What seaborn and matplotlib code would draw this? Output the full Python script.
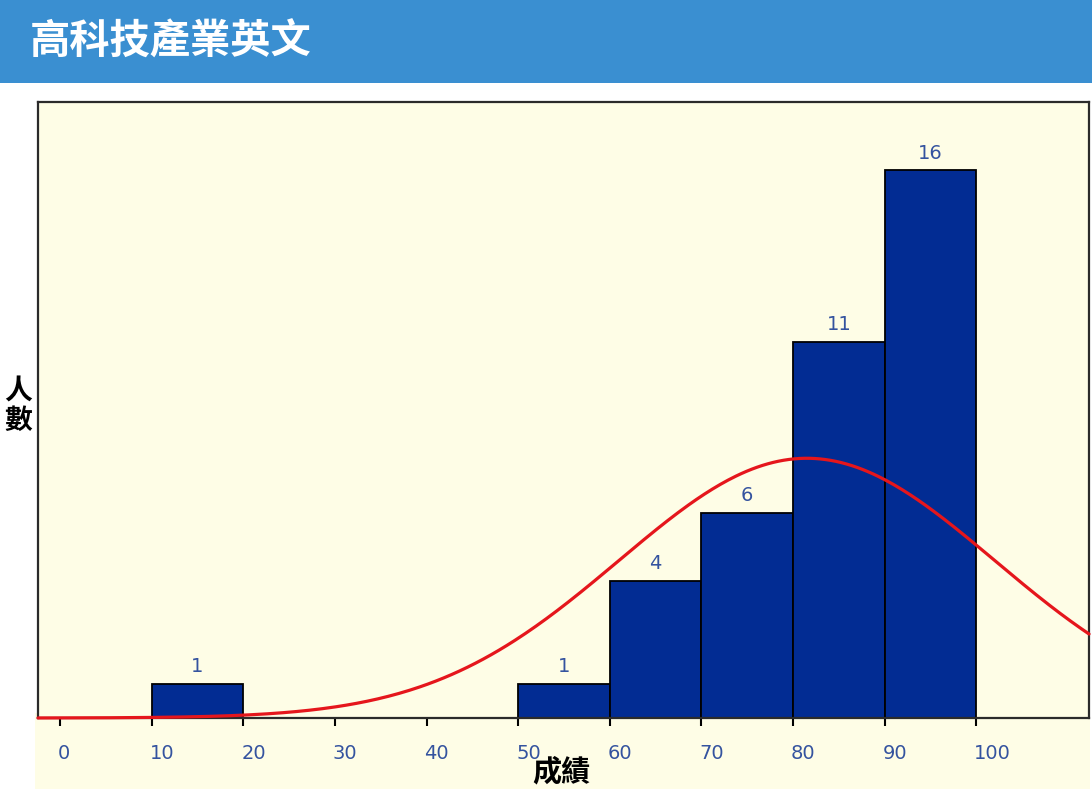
import numpy as np
import pandas as pd
import matplotlib
matplotlib.use("Agg")
import matplotlib.pyplot as plt
from matplotlib.patches import Rectangle
import matplotlib.transforms as mtransforms
import seaborn as sns

# histogram of scores (bin midpoints and number of students)
bin_edges = [0, 10, 20, 30, 40, 50, 60, 70, 80, 90, 100]
bin_mids = [15, 55, 65, 75, 85, 95]
counts = [1, 1, 4, 6, 11, 16]
tick_values = [0, 10, 20, 30, 40, 50, 60, 70, 80, 90, 100]

# normal curve fitted to the scores
fit_mean = 81.5
fit_sd = 20.5

sns.set_style("white")
plt.rcParams['font.family'] = ['DejaVu Sans', 'Noto Sans CJK TC']

cjk = ['Noto Sans CJK TC', 'DejaVu Sans']
bg = '#fefde6'
bar_col = '#022c93'
txt_blue = '#34539f'

fig = plt.figure(figsize=(10.92, 8.04), dpi=100)

# header band
fig.patches.append(Rectangle((0, 0.8955), 1, 0.1045, transform=fig.transFigure,
                             facecolor='#3a8fd1', edgecolor='none', zorder=-2))
fig.text(0.027, 0.948, '高科技產業英文', color='white', fontsize=29,
         fontweight='bold', family=cjk, va='center', ha='left')

# beige strip under the plot where the ticks sit
fig.patches.append(Rectangle((0.032, 0.0174), 0.966, 0.095, transform=fig.transFigure,
                             facecolor=bg, edgecolor='none', zorder=-2))

ax = fig.add_axes([0.0348, 0.1057, 0.9625, 0.7662])
ax.set_facecolor(bg)

df = pd.DataFrame({'score': bin_mids, 'n': counts})
sns.histplot(data=df, x='score', weights='n', bins=bin_edges, ax=ax,
             color=bar_col, alpha=1, edgecolor='black', linewidth=1.3)

# fitted normal curve scaled to counts
xs = np.linspace(-2.4, 112.3, 400)
ys = sum(counts) * 10 * np.exp(-0.5 * ((xs - fit_mean) / fit_sd) ** 2) / (fit_sd * np.sqrt(2 * np.pi))
sns.lineplot(x=xs, y=ys, ax=ax, color='#e5161c', linewidth=2.3, zorder=5, clip_on=False)

for m, c in zip(bin_mids, counts):
    ax.text(m, c + 0.53, str(c), ha='center', va='center', color=txt_blue, fontsize=14)

ax.set_xlim(-2.4, 112.3)
ax.set_ylim(0, 18)
ax.set_xticks(tick_values)
ax.set_xticklabels([str(t) for t in tick_values])
ax.set_yticks([])
ax.tick_params(axis='x', direction='out', length=6, width=1.5, color='black',
               pad=12, labelsize=14, labelcolor=txt_blue, bottom=True)
# labels sit just right of their tick, like the original
shift = mtransforms.ScaledTranslation(-2 / 100, 0, fig.dpi_scale_trans)
for lab in ax.get_xticklabels():
    lab.set_horizontalalignment('left')
    lab.set_transform(lab.get_transform() + shift)
ax.set_xlabel('')
ax.set_ylabel('')
for s in ax.spines.values():
    s.set_visible(True)
    s.set_color('#2b2b2b')
    s.set_linewidth(1.6)

fig.text(0.0165, 0.495, '人\n數', fontsize=20, fontweight='bold', family=cjk,
         ha='center', va='center', linespacing=1.05, color='black')
fig.text(0.514, 0.041, '成績', fontsize=21, fontweight='bold', family=cjk,
         ha='center', va='center', color='black')

fig.savefig('out.png', dpi=100)
